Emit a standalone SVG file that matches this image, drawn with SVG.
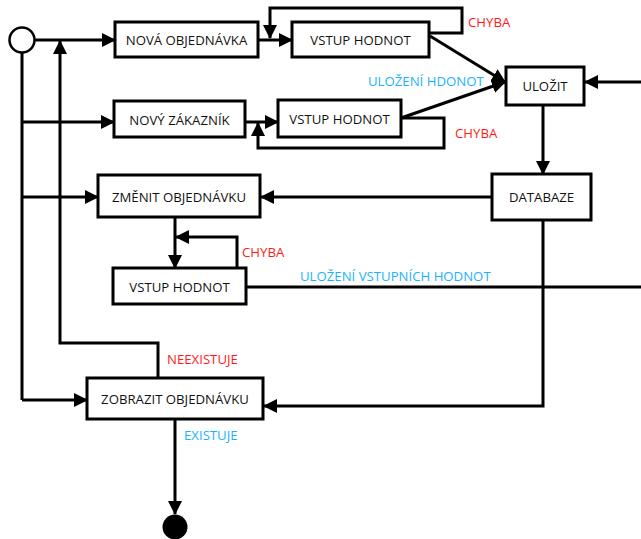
<svg xmlns="http://www.w3.org/2000/svg" width="641" height="539" viewBox="0 0 641 539">
<defs>
<marker id="ah" markerUnits="userSpaceOnUse" markerWidth="14" markerHeight="14" viewBox="0 0 14 14" refX="13" refY="7" orient="auto"><path d="M0,0 L14,7 L0,14 Z" fill="#000"/></marker>
</defs>
<style>
.n rect{fill:#fff;stroke:#000;stroke-width:3}
.c path{fill:none;stroke:#000;stroke-width:3}
.c .a{marker-end:url(#ah)}
text{font-family:"Open Sans","Liberation Sans",sans-serif;font-size:13.2px;text-anchor:middle;dominant-baseline:central;fill:#111}
.r{fill:#ff1a1a;text-anchor:start}
.b{fill:#1ab2ff;text-anchor:start}
</style>
<rect width="641" height="539" fill="#fff"/>
<g class="c" id="connectors">
<path class="a" d="M34,40 H115"/>
<path d="M22,53 V400"/>
<path class="a" d="M22,122 H114"/>
<path class="a" d="M22,197 H98"/>
<path class="a" d="M22,400 H87"/>
<path class="a" d="M158,378 V343 H60 V41"/>
<path class="a" d="M258,40 H292"/>
<path class="a" d="M429,33 H462 V8 H270 V38"/>
<path class="a" d="M245,122 H278"/>
<path class="a" d="M401,118 H444 V148 H258 V123"/>
<path class="a" d="M430,36 L505,82"/>
<path class="a" d="M401,118 L505,82"/>
<path class="a" d="M641,82 H585"/>
<path class="a" d="M543,105 V174"/>
<path class="a" d="M492,197 H261"/>
<path class="a" d="M543,220 V406 H264"/>
<path class="a" d="M175,217 V268"/>
<path class="a" d="M237,268 V237 H176"/>
<path d="M246,287 H641"/>
<path class="a" d="M175,419 V514"/>
</g>
<g id="start"><circle cx="22" cy="40" r="12.5" fill="#fff" stroke="#000" stroke-width="2.5"/></g>
<g id="end"><circle cx="175" cy="527" r="12.5" fill="#000"/></g>
<g class="n" id="nova"><rect x="115" y="22" width="143" height="35"/><text x="186.5" y="40">NOVÁ OBJEDNÁVKA</text></g>
<g class="n" id="vstup1"><rect x="292" y="22" width="137" height="35"/><text x="360.5" y="40">VSTUP HODNOT</text></g>
<g class="n" id="zakaznik"><rect x="114" y="101" width="131" height="36"/><text x="179.5" y="120">NOVÝ ZÁKAZNÍK</text></g>
<g class="n" id="vstup2"><rect x="278" y="100" width="123" height="37"/><text x="339.5" y="119">VSTUP HODNOT</text></g>
<g class="n" id="ulozit"><rect x="506" y="67" width="78" height="38"/><text x="545" y="86">ULOŽIT</text></g>
<g class="n" id="databaze"><rect x="492" y="174" width="99" height="46"/><text x="541.5" y="197">DATABAZE</text></g>
<g class="n" id="zmenit"><rect x="98" y="175" width="162" height="42"/><text x="179" y="197">ZMĚNIT OBJEDNÁVKU</text></g>
<g class="n" id="vstup3"><rect x="113" y="268" width="133" height="36"/><text x="179.5" y="287">VSTUP HODNOT</text></g>
<g class="n" id="zobrazit"><rect x="87" y="378" width="176" height="41"/><text x="175" y="399">ZOBRAZIT OBJEDNÁVKU</text></g>
<g id="labels">
<text class="r" x="468" y="22">CHYBA</text>
<text class="b" x="368" y="81">ULOŽENÍ HDONOT</text>
<text class="r" x="455" y="133">CHYBA</text>
<text class="r" x="242" y="252">CHYBA</text>
<text class="b" x="300" y="276">ULOŽENÍ VSTUPNÍCH HODNOT</text>
<text class="r" x="167" y="359">NEEXISTUJE</text>
<text class="b" x="184" y="435">EXISTUJE</text>
</g>
</svg>
